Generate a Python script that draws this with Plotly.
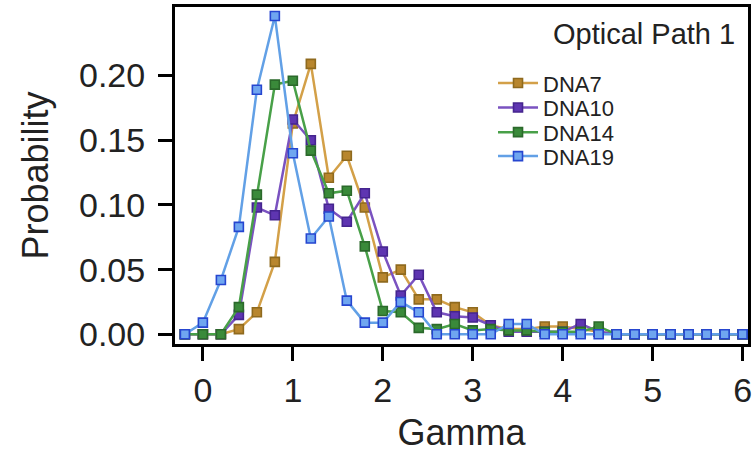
import plotly.graph_objects as go

# Gamma bins (x) and probability per construct
gamma = [-0.2, 0.0, 0.2, 0.4, 0.6, 0.8, 1.0, 1.2, 1.4, 1.6, 1.8, 2.0, 2.2, 2.4, 2.6, 2.8,
         3.0, 3.2, 3.4, 3.6, 3.8, 4.0, 4.2, 4.4, 4.6, 4.8, 5.0, 5.2, 5.4, 5.6, 5.8, 6.0]

dna7 = [0.0, 0.0, 0.0, 0.004, 0.017, 0.056, 0.163, 0.209, 0.121, 0.138, 0.098, 0.044,
        0.050, 0.027, 0.027, 0.021, 0.017, 0.007, 0.004, 0.004, 0.006, 0.006, 0.004, 0.002,
        0.0, 0.0, 0.0, 0.0, 0.0, 0.0, 0.0, 0.0]
dna10 = [0.0, 0.0, 0.0, 0.015, 0.098, 0.092, 0.166, 0.150, 0.097, 0.087, 0.109, 0.064,
         0.030, 0.046, 0.017, 0.014, 0.013, 0.007, 0.002, 0.002, 0.002, 0.002, 0.008, 0.002,
         0.0, 0.0, 0.0, 0.0, 0.0, 0.0, 0.0, 0.0]
dna14 = [0.0, 0.0, 0.0, 0.021, 0.108, 0.193, 0.196, 0.142, 0.109, 0.111, 0.068, 0.018,
         0.017, 0.005, 0.004, 0.008, 0.003, 0.004, 0.003, 0.003, 0.002, 0.002, 0.002, 0.006,
         0.0, 0.0, 0.0, 0.0, 0.0, 0.0, 0.0, 0.0]
dna19 = [0.0, 0.009, 0.042, 0.083, 0.189, 0.246, 0.140, 0.074, 0.091, 0.026, 0.009, 0.009,
         0.025, 0.017, 0.0, 0.0, 0.0, 0.0, 0.008, 0.008, 0.0, 0.0, 0.0, 0.0,
         0.0, 0.0, 0.0, 0.0, 0.0, 0.0, 0.0, 0.0]

series = [
    ("DNA7", dna7, "#D3A048", "#B8862E", "#8F6A1E"),
    ("DNA10", dna10, "#7A52C0", "#5E35B1", "#45258F"),
    ("DNA14", dna14, "#48A048", "#3A8A3A", "#2B692B"),
    ("DNA19", dna19, "#62A0E6", "#6FA6F0", "#2646D0"),
]

font_family = "Liberation Sans, Arial, sans-serif"

# one single-entry legend per series so the rows sit closer than the default spacing
legend_names = ["legend", "legend2", "legend3", "legend4"]
row_y = [0.774, 0.701, 0.628, 0.557]

fig = go.Figure()
legend_layout = {}
for (name, vals, line_c, fill_c, edge_c), lg, ry in zip(series, legend_names, row_y):
    fig.add_trace(go.Scatter(
        x=gamma, y=vals, name=name, mode="lines+markers", legend=lg,
        line=dict(color=line_c, width=2.5),
        marker=dict(symbol="square", size=9, color=fill_c,
                    line=dict(color=edge_c, width=1.6)),
    ))
    legend_layout[lg] = dict(
        x=0.555, y=ry, xanchor="left", yanchor="middle",
        bgcolor="rgba(0,0,0,0)", font=dict(size=22, family=font_family),
        itemwidth=40,
    )

fig.update_layout(
    width=756, height=453,
    margin=dict(l=175, r=8, t=4, b=108),
    paper_bgcolor="white", plot_bgcolor="white",
    font=dict(family=font_family, color="#222222"),
    showlegend=True,
    annotations=[dict(
        text="Optical Path 1", xref="paper", yref="paper",
        x=0.98, y=0.92, xanchor="right", yanchor="middle",
        showarrow=False, font=dict(size=29, family=font_family, color="#222222"),
    )],
    **legend_layout,
)

fig.update_xaxes(
    range=[-0.31, 6.06], tickvals=[0, 1, 2, 3, 4, 5, 6],
    ticks="outside", ticklen=14, tickwidth=3, tickcolor="black",
    showline=True, linewidth=3, linecolor="black", mirror=True,
    showgrid=False, zeroline=False,
    tickfont=dict(size=34), ticklabelstandoff=0,
    title=dict(text="Gamma", font=dict(size=36), standoff=15),
)
fig.update_yaxes(
    range=[-0.0075, 0.253], tickvals=[0.0, 0.05, 0.10, 0.15, 0.20],
    tickformat=".2f",
    ticks="outside", ticklen=14, tickwidth=3, tickcolor="black",
    showline=True, linewidth=3, linecolor="black", mirror=True,
    showgrid=False, zeroline=False,
    tickfont=dict(size=34), ticklabelstandoff=6,
    title=dict(text="Probability", font=dict(size=36), standoff=20),
)

fig.write_html("out.html")
